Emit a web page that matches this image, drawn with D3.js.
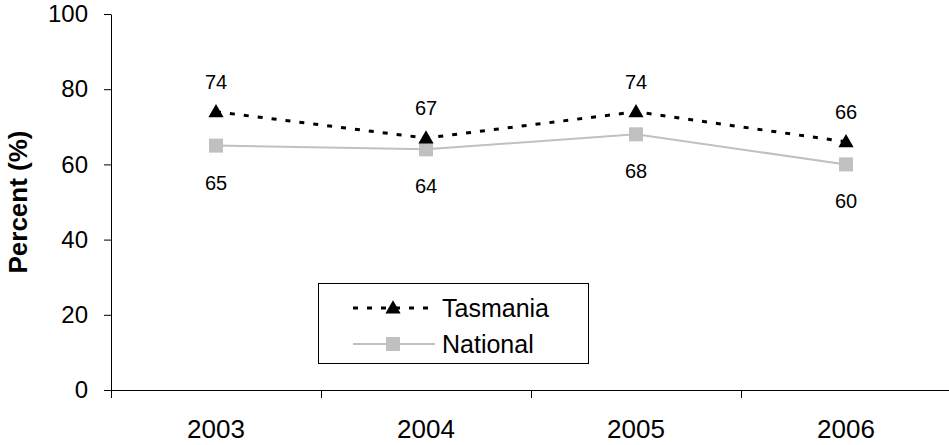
<!DOCTYPE html>
<html lang="en">
<head>
    <meta charset="UTF-8">
    <title>Tasmania vs National</title>
    <script src="https://d3js.org/d3.v7.min.js"></script>
    <style>
        body {
            margin: 0;
            background: #ffffff;
            font-family: Arial, "Liberation Sans", sans-serif;
        }
        svg text {
            fill: #000000;
        }
    </style>
</head>
<body>
<main></main>
<script>

    // data
    var years = ['2003', '2004', '2005', '2006'];
    var tasmania = [74, 67, 74, 66];
    var national = [65, 64, 68, 60];
    var yTicks = [0, 20, 40, 60, 80, 100];

    var w = 949, h = 445;

    var svg = d3.select('main')
                .append('svg')
                .attr('width', w)
                .attr('height', h);

    var x = d3.scaleBand()
              .domain(years)
              .range([111, 951]);

    var y = d3.scaleLinear()
              .domain([0, 100])
              .range([390, 14]);

    // y axis
    var yAxis = svg.append('g')
        .attr('transform', 'translate(111,0)')
        .call(d3.axisLeft(y).tickValues(yTicks).tickSize(7).tickPadding(16).tickSizeOuter(0));
    yAxis.select('.domain').attr('stroke', '#000');
    yAxis.selectAll('.tick line').attr('stroke', '#000');
    yAxis.selectAll('text')
        .style('font-family', 'Arial, "Liberation Sans", sans-serif')
        .style('font-size', '24px');

    // x axis: labels in the middle of each band, ticks on the band edges
    var xAxis = svg.append('g')
        .attr('transform', 'translate(0,390)')
        .call(d3.axisBottom(x).tickSize(0).tickPadding(30).tickSizeOuter(0));
    xAxis.select('.domain').attr('stroke', '#000');
    xAxis.selectAll('text')
        .style('font-family', 'Arial, "Liberation Sans", sans-serif')
        .style('font-size', '26px');

    xAxis.selectAll('line.edge')
        .data(years)
        .enter()
        .append('line')
        .attr('class', 'edge')
        .attr('x1', function(d){ return x(d) + 0.5; })
        .attr('x2', function(d){ return x(d) + 0.5; })
        .attr('y1', 0)
        .attr('y2', 8)
        .attr('stroke', '#000');

    // y title
    svg.append('text')
        .attr('transform', 'translate(27,202) rotate(-90)')
        .attr('text-anchor', 'middle')
        .style('font-size', '26px')
        .style('font-weight', 'bold')
        .text('Percent (%)');

    var cx = function(d, i){ return x(years[i]) + x.bandwidth() / 2; };

    var line = d3.line()
        .x(function(d, i){ return cx(d, i); })
        .y(function(d){ return y(d); });

    // National series
    svg.append('path')
        .datum(national)
        .attr('d', line)
        .attr('fill', 'none')
        .attr('stroke', '#c0c0c0')
        .attr('stroke-width', 2);

    svg.selectAll('.nat-mark')
        .data(national)
        .enter()
        .append('path')
        .attr('class', 'nat-mark')
        .attr('d', d3.symbol().type(d3.symbolSquare).size(196))
        .attr('transform', function(d, i){ return 'translate(' + cx(d, i) + ',' + y(d) + ')'; })
        .attr('fill', '#c0c0c0');

    // Tasmania series
    svg.append('path')
        .datum(tasmania)
        .attr('d', line)
        .attr('fill', 'none')
        .attr('stroke', '#000')
        .attr('stroke-width', 3)
        .attr('stroke-dasharray', '5,9');

    svg.selectAll('.tas-mark')
        .data(tasmania)
        .enter()
        .append('path')
        .attr('class', 'tas-mark')
        .attr('d', d3.symbol().type(d3.symbolTriangle).size(100))
        .attr('transform', function(d, i){ return 'translate(' + cx(d, i) + ',' + (y(d) + 1) + ')'; })
        .attr('fill', '#000');

    // data labels
    svg.selectAll('.tas-label')
        .data(tasmania)
        .enter()
        .append('text')
        .attr('class', 'tas-label')
        .attr('x', function(d, i){ return cx(d, i); })
        .attr('y', function(d){ return y(d) - 23; })
        .attr('text-anchor', 'middle')
        .style('font-size', '20px')
        .text(function(d){ return d; });

    svg.selectAll('.nat-label')
        .data(national)
        .enter()
        .append('text')
        .attr('class', 'nat-label')
        .attr('x', function(d, i){ return cx(d, i); })
        .attr('y', function(d){ return y(d) + 44; })
        .attr('text-anchor', 'middle')
        .style('font-size', '20px')
        .text(function(d){ return d; });

    // legend
    var legend = svg.append('g').attr('id', 'legend');
    legend.append('rect')
        .attr('x', 318.5)
        .attr('y', 283.5)
        .attr('width', 270)
        .attr('height', 80)
        .attr('fill', '#fff')
        .attr('stroke', '#000');

    legend.append('line')
        .attr('x1', 353).attr('x2', 435)
        .attr('y1', 308).attr('y2', 308)
        .attr('stroke', '#000')
        .attr('stroke-width', 3)
        .attr('stroke-dasharray', '5,9');
    legend.append('path')
        .attr('d', d3.symbol().type(d3.symbolTriangle).size(100))
        .attr('transform', 'translate(393,309)')
        .attr('fill', '#000');
    legend.append('text')
        .attr('x', 442)
        .attr('y', 308)
        .attr('dy', '0.36em')
        .style('font-size', '25px')
        .text('Tasmania');

    legend.append('line')
        .attr('x1', 353).attr('x2', 435)
        .attr('y1', 344).attr('y2', 344)
        .attr('stroke', '#c0c0c0')
        .attr('stroke-width', 2);
    legend.append('path')
        .attr('d', d3.symbol().type(d3.symbolSquare).size(196))
        .attr('transform', 'translate(393,344)')
        .attr('fill', '#c0c0c0');
    legend.append('text')
        .attr('x', 442)
        .attr('y', 344)
        .attr('dy', '0.36em')
        .style('font-size', '25px')
        .text('National');

</script>
</body>
</html>
